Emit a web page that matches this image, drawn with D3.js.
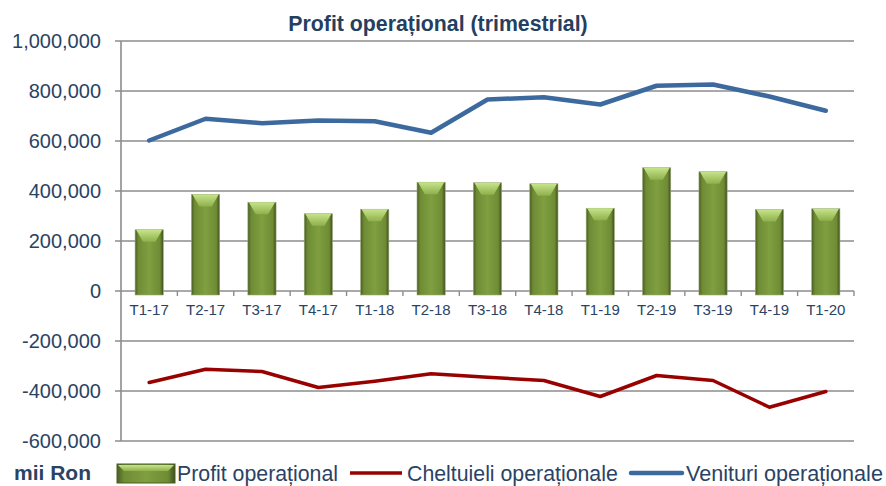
<!DOCTYPE html>
<html>
<head>
<meta charset="utf-8">
<script src="https://cdn.jsdelivr.net/npm/d3@7"></script>
<style>
  body { margin: 0; background: #fff; }
  text { font-family: Arial, "Liberation Sans", sans-serif; }
</style>
</head>
<body>
<div id="chart"></div>
<script>
var categories = ['T1-17','T2-17','T3-17','T4-17','T1-18','T2-18','T3-18','T4-18','T1-19','T2-19','T3-19','T4-19','T1-20'];
var profit = [245000, 386000, 355000, 309000, 327000, 435000, 433000, 429000, 331000, 493000, 477000, 326000, 329000];
var cheltuieli = [-366000, -313000, -322000, -386000, -361000, -331000, -345000, -358000, -422000, -338000, -358000, -465000, -402000];
var venituri = [602000, 689000, 671000, 682000, 679000, 633000, 766000, 775000, 746000, 821000, 826000, 778000, 721000];
var yTicks = [1000000, 800000, 600000, 400000, 200000, 0, -200000, -400000, -600000];

var width = 886, height = 486;
var plotLeft = 121, plotRight = 854, plotTop = 41, plotBottom = 441;
var textColor = '#2a4365';

var svg = d3.select('#chart').append('svg')
    .attr('width', width)
    .attr('height', height);

var defs = svg.append('defs');
var grad = defs.append('linearGradient').attr('id', 'barGrad')
    .attr('x1', 0).attr('x2', 1).attr('y1', 0).attr('y2', 0);
grad.append('stop').attr('offset', '0%').attr('stop-color', '#4a5e24');
grad.append('stop').attr('offset', '12%').attr('stop-color', '#6f8c35');
grad.append('stop').attr('offset', '50%').attr('stop-color', '#7f9f40');
grad.append('stop').attr('offset', '88%').attr('stop-color', '#6f8c35');
grad.append('stop').attr('offset', '100%').attr('stop-color', '#3e4f1e');

var bevel = defs.append('linearGradient').attr('id', 'bevelGrad')
    .attr('x1', 0).attr('x2', 0).attr('y1', 0).attr('y2', 1);
bevel.append('stop').attr('offset', '0%').attr('stop-color', '#c6e48a');
bevel.append('stop').attr('offset', '100%').attr('stop-color', '#8fb04c');

var x = d3.scaleBand().domain(categories).range([plotLeft, plotRight]);
var y = d3.scaleLinear().domain([-600000, 1000000]).range([plotBottom, plotTop]);

// gridlines
svg.append('g').selectAll('line')
    .data(yTicks)
    .join('line')
    .attr('x1', plotLeft - 6)
    .attr('x2', plotRight)
    .attr('y1', d => y(d))
    .attr('y2', d => y(d))
    .attr('stroke', '#8c8c8c')
    .attr('stroke-width', 1.6);

// y axis line
svg.append('line')
    .attr('x1', plotLeft).attr('x2', plotLeft)
    .attr('y1', plotTop).attr('y2', plotBottom)
    .attr('stroke', '#8c8c8c')
    .attr('stroke-width', 1.6);

// y labels (plain hyphen for negatives, like the original)
svg.append('g').selectAll('text')
    .data(yTicks)
    .join('text')
    .attr('x', plotLeft - 20)
    .attr('y', d => y(d) + 7)
    .attr('text-anchor', 'end')
    .attr('fill', textColor)
    .style('font-size', '20px')
    .text(d => d3.format(',')(d).replace('\u2212', '-'));

// category tick marks on zero line
svg.append('g').selectAll('line')
    .data(categories)
    .join('line')
    .attr('x1', (d, i) => plotLeft + x.step() * (i + 1))
    .attr('x2', (d, i) => plotLeft + x.step() * (i + 1))
    .attr('y1', y(0))
    .attr('y2', y(0) + 5)
    .attr('stroke', '#8c8c8c')
    .attr('stroke-width', 1.4);

// bars
var barW = x.bandwidth() * 0.5;
var bars = svg.append('g').selectAll('g')
    .data(categories)
    .join('g')
    .attr('transform', d => 'translate(' + (x(d) + (x.bandwidth() - barW) / 2) + ',0)');

bars.append('rect')
    .attr('x', 0)
    .attr('width', barW)
    .attr('y', (d, i) => y(profit[i]))
    .attr('height', (d, i) => y(0) - y(profit[i]) + 4)
    .attr('fill', 'url(#barGrad)')
    .attr('stroke', '#9aa87a')
    .attr('stroke-width', 0.6);

bars.append('path')
    .attr('d', function(d, i) {
        var t = y(profit[i]);
        return 'M1,' + t + 'L' + (barW - 1) + ',' + t + 'L' + (barW * 0.72) + ',' + (t + 12) + 'L' + (barW * 0.28) + ',' + (t + 12) + 'Z';
    })
    .attr('fill', 'url(#bevelGrad)');

// category labels
svg.append('g').selectAll('text')
    .data(categories)
    .join('text')
    .attr('x', d => x(d) + x.bandwidth() / 2)
    .attr('y', y(0) + 24)
    .attr('text-anchor', 'middle')
    .attr('fill', textColor)
    .style('font-size', '15px')
    .text(d => d);

// lines
var line = d3.line()
    .x((d, i) => x(categories[i]) + x.bandwidth() / 2)
    .y(d => y(d));

svg.append('path')
    .datum(cheltuieli)
    .attr('d', line)
    .attr('fill', 'none')
    .attr('stroke', '#990000')
    .attr('stroke-width', 3.5)
    .attr('stroke-linejoin', 'round')
    .attr('stroke-linecap', 'round');

svg.append('path')
    .datum(venituri)
    .attr('d', line)
    .attr('fill', 'none')
    .attr('stroke', '#3d6a9e')
    .attr('stroke-width', 4.5)
    .attr('stroke-linejoin', 'round')
    .attr('stroke-linecap', 'round');

// title
svg.append('text')
    .attr('x', 438)
    .attr('y', 31)
    .attr('text-anchor', 'middle')
    .attr('fill', '#243f60')
    .style('font-size', '21.3px')
    .style('font-weight', 'bold')
    .text('Profit operațional (trimestrial)');

// legend
var ly = 473;
svg.append('text')
    .attr('x', 14).attr('y', ly + 7)
    .attr('fill', textColor)
    .style('font-size', '21px')
    .style('font-weight', 'bold')
    .text('mii Ron');

svg.append('rect')
    .attr('x', 117).attr('y', ly - 9).attr('width', 58).attr('height', 19)
    .attr('fill', 'url(#barGrad)')
    .attr('stroke', '#4a5e24')
    .attr('stroke-width', 1);
svg.append('path')
    .attr('d', 'M118,' + (ly - 8) + 'L174,' + (ly - 8) + 'L168,' + (ly - 2) + 'L124,' + (ly - 2) + 'Z')
    .attr('fill', 'url(#bevelGrad)');

svg.append('text')
    .attr('x', 177).attr('y', ly + 8)
    .attr('fill', textColor)
    .style('font-size', '21.3px')
    .text('Profit operațional');

svg.append('line')
    .attr('x1', 350).attr('x2', 402).attr('y1', ly).attr('y2', ly)
    .attr('stroke', '#990000').attr('stroke-width', 3.5);
svg.append('text')
    .attr('x', 407).attr('y', ly + 8)
    .attr('fill', textColor)
    .style('font-size', '21.3px')
    .text('Cheltuieli operaționale');

svg.append('line')
    .attr('x1', 631).attr('x2', 682).attr('y1', ly).attr('y2', ly)
    .attr('stroke', '#3d6a9e').attr('stroke-width', 4.5)
    .attr('stroke-linecap', 'round');
svg.append('text')
    .attr('x', 686).attr('y', ly + 8)
    .attr('fill', textColor)
    .style('font-size', '21.6px')
    .text('Venituri operaționale');
</script>
</body>
</html>
